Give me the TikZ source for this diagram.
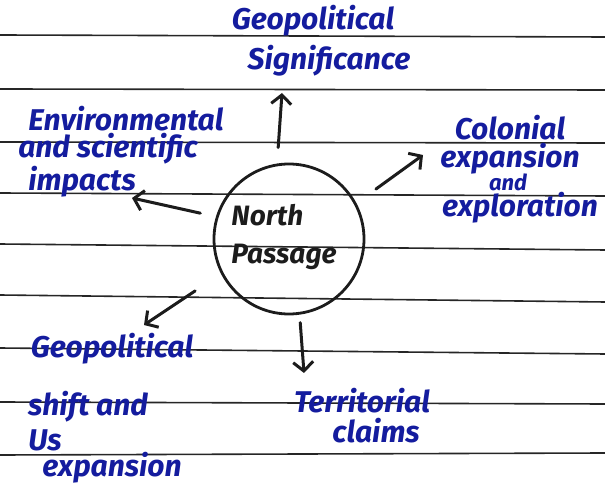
\documentclass[tikz,border=0pt]{standalone}
\usepackage{fontspec}
\setmainfont{Fira Sans}
\usepackage{xcolor}
\usetikzlibrary{arrows.meta}
\definecolor{ink}{RGB}{20,28,158}
\definecolor{pencil}{RGB}{28,28,28}

\begin{document}
\begin{tikzpicture}
		[x=1pt,y=-1pt,
		every node/.style={inner sep=0pt,anchor=base,font=\fontsize{30}{38}\selectfont\bfseries\itshape},
		note/.style={text=ink},
		rule/.style={draw=black!85,line width=1.6pt},
		hub/.style={circle,draw=pencil,line width=2.8pt,minimum size=150pt,anchor=center},
		spoke/.style={draw=pencil,line width=3pt,line cap=round,
			-{Straight Barb[length=9pt,width=20pt,line width=3pt]}}]
	\useasboundingbox (0,0) rectangle (605,502);
	% ruled paper
	\foreach \yl/\yr in {35/37,89/90,142/143,193/196,244/250,295/302,348/354,402/404,455/453}
		\draw[rule] (0,\yl) -- (605,\yr);
	% centre
	\node[hub] (np) at (289,239) {};
	\node[text=pencil,align=left,anchor=center,font=\fontsize{28}{38}\selectfont\bfseries\itshape]
		(npname) at (284,237) {North\\Passage};
	% branches
	\node[note] (sigA) at (313,30) {Geopolitical};
	\node[note] (sigB) at (329,70) {Significance};
	\node[note] (envA) at (126,131) {Environmental};
	\node[note] (envB) at (108,158) {and scientific};
	\node[note] (envC) at (82,191) {impacts};
	\node[note] (colA) at (510,140) {Colonial};
	\node[note] (colB) at (510,168) {expansion};
	\node[note,font=\fontsize{22}{26}\selectfont\bfseries\itshape] (colC) at (508,191) {and};
	\node[note] (colD) at (520,217) {exploration};
	\node[note] (shA) at (112,358) {Geopolitical};
	\node[note] (shB) at (88,416) {shift and};
	\node[note] (shC) at (45,450) {Us};
	\node[note] (shD) at (112,476) {expansion};
	\node[note] (terA) at (362,413) {Territorial};
	\node[note] (terB) at (376,442) {claims};
	% arrow heads
	\coordinate (sigtip) at (282,93);
	\coordinate (envtip) at (132,198);
	\coordinate (coltip) at (423,155);
	\coordinate (shtip) at (144,325);
	\coordinate (tertip) at (304,373);
	\draw[spoke,shorten <=16pt] (np.99) -- (sigtip);
	\draw[spoke,shorten <=16pt] (np.163) -- (envtip);
	\draw[spoke,shorten <=24pt] (np.28) -- (coltip);
	\draw[spoke,shorten <=31pt] (np.207) -- (shtip);
	\draw[spoke,shorten <=8pt] (np.278) -- (tertip);
\end{tikzpicture}
\end{document}
